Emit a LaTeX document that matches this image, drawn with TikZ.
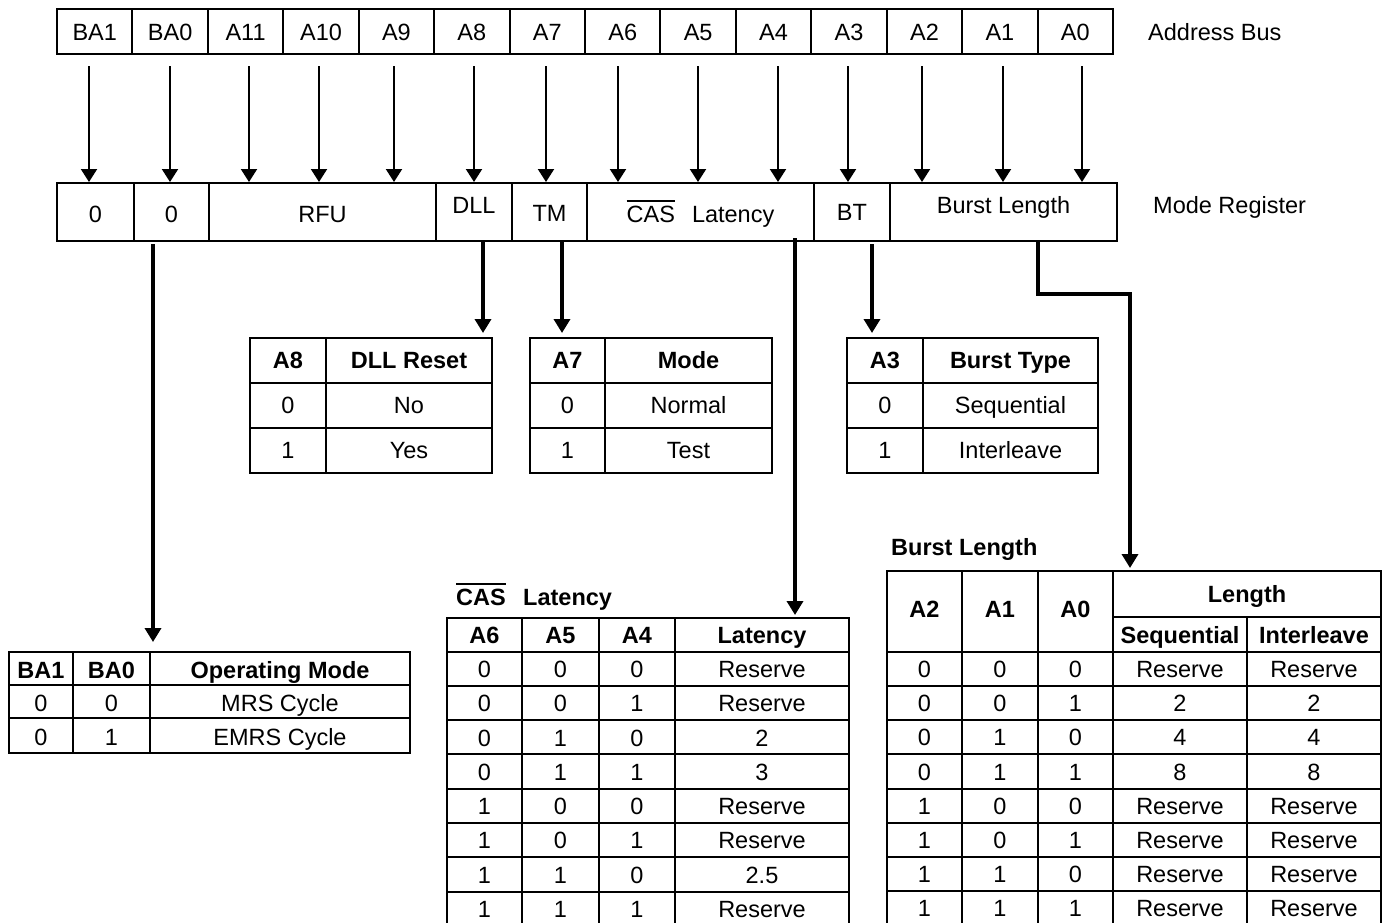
\documentclass[tikz,border=0pt]{standalone}
\usepackage{fontspec}
\setmainfont{Liberation Sans}
\usetikzlibrary{arrows.meta,calc}
\newcommand\fs{\fontsize{23.5}{28}\selectfont}
\newcommand\ovl[2]{\setbox0\hbox{#1}\rlap{\rule[\dimexpr\ht0+4pt\relax]{\wd0}{#2}}\box0}
\begin{document}
\begin{tikzpicture}[x=1pt,y=-1pt,
  buscell/.style={draw,line width=2pt,minimum width=75.43pt,minimum height=45pt,inner sep=0pt,text height=17pt,text depth=0pt,font=\fs},
  regcell/.style={draw,line width=2pt,minimum height=58pt,inner sep=0pt,text height=20pt,text depth=0pt,font=\fs},
  frame/.style={draw,line width=2pt,inner sep=0pt,outer sep=0pt,anchor=north west},
  tline/.style={line width=2pt},
  txt/.style={anchor=base,inner sep=0pt,font=\fs},
  hd/.style={anchor=base,inner sep=0pt,font=\fs\bfseries},
  lbl/.style={anchor=base west,inner sep=0pt,font=\fs},
  busarr/.style={line width=2pt,-{Triangle[width=16pt,length=13pt]}},
  tarr/.style={line width=4pt,-{Triangle[width=16pt,length=14pt]}}]
\useasboundingbox (0,0) rectangle (1389,922);

% Address bus
\foreach \t [count=\i from 0] in {BA1,BA0,A11,A10,A9,A8,A7,A6,A5,A4,A3,A2,A1,A0}
  \node[buscell] (b\i) at ({57+75.43*(\i+0.5)},31.5) {\t};
\node[lbl] (abus) at (1148,40) {Address Bus};

% Mode register
\node[regcell,minimum width=77pt]  (r0)   at (95.5,212) {0};
\node[regcell,minimum width=75pt]  (r1)   at (171.5,212) {0};
\node[regcell,minimum width=227pt] (rRFU) at (322.5,212) {RFU};
\node[regcell,minimum width=76pt,text depth=18pt] (rDLL) at (474,212) {DLL};
\node[regcell,minimum width=75pt,text depth=2pt]  (rTM)  at (549.5,212) {TM};
\node[regcell,minimum width=227pt] (rCAS) at (700.5,212) {\ovl{CAS}{1.5pt}\hspace{17pt}Latency};
\node[regcell,minimum width=76pt,text depth=4pt]  (rBT)  at (852,212) {BT};
\node[regcell,minimum width=227pt,text depth=18pt] (rBL) at (1003.5,212) {Burst Length};
\node[lbl] (mreg) at (1153,213) {Mode Register};

% Bus arrows
\foreach \ax [count=\i from 0] in {89,170,249,319,394,474,546,618,698,778,848,922,1003,1082} {
  \coordinate (ax\i) at (\ax,0);
  \draw[busarr] ($(b\i.south -| ax\i)+(0,11)$) -- (ax\i |- r0.north);
}

% Table frames
\node[frame,minimum width=401pt,minimum height=101pt] (opT)  at (9,652) {};
\node[frame,minimum width=242pt,minimum height=135pt] (dllT) at (250,338) {};
\node[frame,minimum width=242pt,minimum height=135pt] (tmT)  at (530,338) {};
\node[frame,minimum width=251pt,minimum height=135pt] (btT)  at (847,338) {};
\node[frame,minimum width=402pt,minimum height=308pt] (casT) at (447,618) {};
\node[frame,minimum width=494pt,minimum height=354pt] (blT)  at (887,571) {};

% Connectors
\coordinate (cBA0) at (153,0);
\coordinate (cDLL) at (483,0);
\coordinate (cTM)  at (562,0);
\coordinate (cCAS) at (795,0);
\coordinate (cBT)  at (872,0);
\coordinate (cBL1) at (1038,0);
\coordinate (cBL2) at (1130,0);
\draw[tarr] ($(r1.south -| cBA0)+(0,2)$) -- ($(opT.north -| cBA0)+(0,-10)$);
\draw[tarr] (rDLL.south -| cDLL) -- ($(dllT.north -| cDLL)+(0,-5)$);
\draw[tarr] (rTM.south -| cTM) -- ($(tmT.north -| cTM)+(0,-5)$);
\draw[tarr] ($(rCAS.south -| cCAS)+(0,-4)$) -- ($(casT.north -| cCAS)+(0,-3)$);
\draw[tarr] ($(rBT.south -| cBT)+(0,2)$) -- ($(btT.north -| cBT)+(0,-5)$);
\draw[tarr] (rBL.south -| cBL1) -- ++(0,52) -| ($(blT.north -| cBL2)+(0,-3)$);

% Operating mode table
\draw[tline] (73,652) -- (73,753) (150,652) -- (150,753) (9,685) -- (410,685) (9,718) -- (410,718);
\node[hd] (op-h1) at (41,678) {BA1};
\node[hd] (op-h2) at (111.5,678) {BA0};
\node[hd] (op-h3) at (280,678) {Operating Mode};
\node[txt] (op-11) at (41,711) {0};
\node[txt] (op-12) at (111.5,711) {0};
\node[txt] (op-13) at (280,711) {MRS Cycle};
\node[txt] (op-21) at (41,745) {0};
\node[txt] (op-22) at (111.5,745) {1};
\node[txt] (op-23) at (280,745) {EMRS Cycle};

% DLL table
\draw[tline] (326,338) -- (326,473) (250,383) -- (492,383) (250,428) -- (492,428);
\node[hd] (dll-h1) at (288,368.5) {A8};
\node[hd] (dll-h2) at (409,368.5) {DLL Reset};
\node[txt] (dll-11) at (288,413.5) {0};
\node[txt] (dll-12) at (409,413.5) {No};
\node[txt] (dll-21) at (288,458.5) {1};
\node[txt] (dll-22) at (409,458.5) {Yes};

% TM table
\draw[tline] (605,338) -- (605,473) (530,383) -- (772,383) (530,428) -- (772,428);
\node[hd] (tm-h1) at (567.5,368.5) {A7};
\node[hd] (tm-h2) at (688.5,368.5) {Mode};
\node[txt] (tm-11) at (567.5,413.5) {0};
\node[txt] (tm-12) at (688.5,413.5) {Normal};
\node[txt] (tm-21) at (567.5,458.5) {1};
\node[txt] (tm-22) at (688.5,458.5) {Test};

% BT table
\draw[tline] (923,338) -- (923,473) (847,383) -- (1098,383) (847,428) -- (1098,428);
\node[hd] (bt-h1) at (885,368.5) {A3};
\node[hd] (bt-h2) at (1010.5,368.5) {Burst Type};
\node[txt] (bt-11) at (885,413.5) {0};
\node[txt] (bt-12) at (1010.5,413.5) {Sequential};
\node[txt] (bt-21) at (885,458.5) {1};
\node[txt] (bt-22) at (1010.5,458.5) {Interleave};

% CAS latency table
\node[anchor=base west,inner sep=0pt,font=\fs\bfseries] (castitle) at (456,605) {\ovl{CAS}{2pt}\hspace{17.4pt}Latency};
\draw[tline] (522,618) -- (522,926) (599,618) -- (599,926) (675,618) -- (675,926);
\foreach \y in {652,686,720,754,789,823,857,892}
  \draw[tline] (447,\y) -- (849,\y);
\node[hd] (cas-h1) at (484.5,643.4) {A6};
\node[hd] (cas-h2) at (560.5,643.4) {A5};
\node[hd] (cas-h3) at (637,643.4) {A4};
\node[hd] (cas-h4) at (762,643.4) {Latency};
\foreach \a/\b/\c/\l [count=\i from 0] in {0/0/0/Reserve,0/0/1/Reserve,0/1/0/2,0/1/1/3,1/0/0/Reserve,1/0/1/Reserve,1/1/0/2.5,1/1/1/Reserve} {
  \node[txt] (cas-\i-a) at (484.5,{677.4+34.3*\i}) {\a};
  \node[txt] (cas-\i-b) at (560.5,{677.4+34.3*\i}) {\b};
  \node[txt] (cas-\i-c) at (637,{677.4+34.3*\i}) {\c};
  \node[txt] (cas-\i-l) at (762,{677.4+34.3*\i}) {\l};
}

% Burst length table
\node[anchor=base west,inner sep=0pt,font=\fs\bfseries] (bltitle) at (891,555) {Burst Length};
\draw[tline] (962,571) -- (962,925) (1038,571) -- (1038,925) (1113,571) -- (1113,925) (1247,617) -- (1247,925) (1113,617) -- (1381,617);
\foreach \y in {652,686,720,754,789,823,857,891}
  \draw[tline] (887,\y) -- (1381,\y);
\node[hd] (bl-h1) at (924.5,617) {A2};
\node[hd] (bl-h2) at (1000,617) {A1};
\node[hd] (bl-h3) at (1075.5,617) {A0};
\node[hd] (bl-h4) at (1247,602) {Length};
\node[hd] (bl-h5) at (1180,643) {Sequential};
\node[hd] (bl-h6) at (1314,643) {Interleave};
\foreach \a/\b/\c/\s/\n [count=\i from 0] in {0/0/0/Reserve/Reserve,0/0/1/2/2,0/1/0/4/4,0/1/1/8/8,1/0/0/Reserve/Reserve,1/0/1/Reserve/Reserve,1/1/0/Reserve/Reserve,1/1/1/Reserve/Reserve} {
  \node[txt] (bl-\i-a) at (924.5,{677.4+34.2*\i}) {\a};
  \node[txt] (bl-\i-b) at (1000,{677.4+34.2*\i}) {\b};
  \node[txt] (bl-\i-c) at (1075.5,{677.4+34.2*\i}) {\c};
  \node[txt] (bl-\i-s) at (1180,{677.4+34.2*\i}) {\s};
  \node[txt] (bl-\i-n) at (1314,{677.4+34.2*\i}) {\n};
}
\end{tikzpicture}
\end{document}
